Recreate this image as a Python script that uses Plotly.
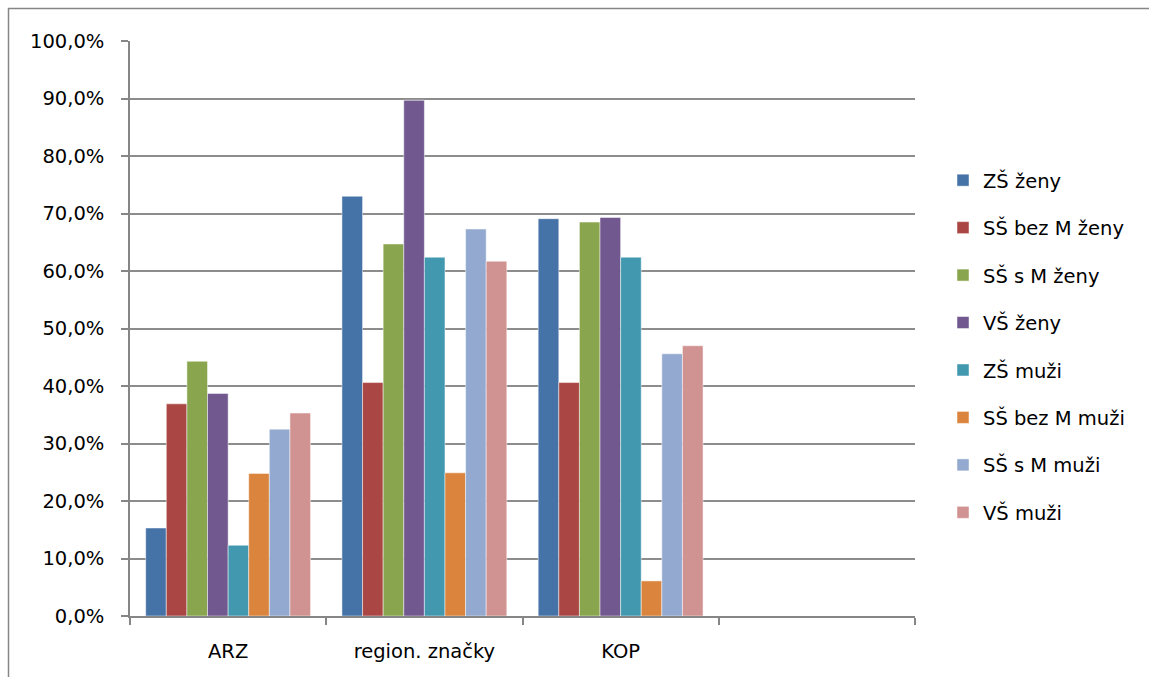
import plotly.graph_objects as go

categories = ["ARZ", "region. značky", "KOP", " "]
series_names = ["ZŠ ženy", "SŠ bez M ženy", "SŠ s M ženy", "VŠ ženy",
                "ZŠ muži", "SŠ bez M muži", "SŠ s M muži", "VŠ muži"]
zs_zeny = [0.153, 0.730, 0.691, None]
ss_bez_m_zeny = [0.369, 0.406, 0.406, None]
ss_s_m_zeny = [0.443, 0.647, 0.685, None]
vs_zeny = [0.387, 0.897, 0.693, None]
zs_muzi = [0.123, 0.624, 0.624, None]
ss_bez_m_muzi = [0.248, 0.249, 0.061, None]
ss_s_m_muzi = [0.325, 0.673, 0.456, None]
vs_muzi = [0.353, 0.617, 0.470, None]
series_values = [zs_zeny, ss_bez_m_zeny, ss_s_m_zeny, vs_zeny,
                 zs_muzi, ss_bez_m_muzi, ss_s_m_muzi, vs_muzi]
colors = ["#4572A7", "#AA4643", "#89A54E", "#71588F",
          "#4198AF", "#DB843D", "#93A9CF", "#D19392"]
y_ticks = [i / 10 for i in range(11)]
y_tick_labels = [f"{i*10},0%" for i in range(11)]

FONT = "DejaVu Sans"
FS = 19.5
fig = go.Figure()
for i, (name, vals) in enumerate(zip(series_names, series_values)):
    fig.add_trace(go.Bar(
        x=categories, y=vals, name=name, legendgroup=f"g{i}",
        marker=dict(color=colors[i], line=dict(color="rgba(255,255,255,0.6)", width=0.8)),
    ))

W, H = 1149, 677
L, R, T, B = 130, 915, 41, 616
pw, ph = R - L, B - T

def px2x(px):
    return (px - L) / pw

def py2y(py):
    return (B - py) / ph

fig.update_layout(
    width=W, height=H,
    margin=dict(l=L, r=W - R, t=T, b=H - B, pad=0),
    paper_bgcolor="white", plot_bgcolor="white",
    barmode="group", bargap=0.16, bargroupgap=0,
    font=dict(family=FONT, size=FS, color="#000000"),
    showlegend=True,
    legend=dict(
        x=px2x(943), y=py2y(161), xanchor="left", yanchor="top",
        font=dict(family=FONT, size=FS, color="#000000"),
        tracegroupgap=19.1, itemclick=False, bgcolor="rgba(0,0,0,0)",
    ),
    xaxis=dict(
        type="category", categoryorder="array", categoryarray=categories,
        tickson="boundaries", ticks="outside", ticklen=7, tickwidth=1.5,
        tickcolor="#868686", showline=True, linecolor="#868686", linewidth=1.5,
        showgrid=False, range=[-0.5, 3.5], ticklabelstandoff=17,
        tickfont=dict(family=FONT, size=FS, color="#000000"),
    ),
    yaxis=dict(
        range=[0, 1], tickvals=y_ticks, ticktext=y_tick_labels,
        ticks="outside", ticklen=7, tickwidth=1.5, tickcolor="#868686",
        showline=True, linecolor="#868686", linewidth=1.5,
        showgrid=True, gridcolor="#8c8c8c", gridwidth=1.5,
        zeroline=False, ticklabelstandoff=13,
        tickfont=dict(family=FONT, size=FS, color="#000000"),
    ),
    shapes=[dict(
        type="rect", xref="paper", yref="paper",
        x0=px2x(8.5), y0=py2y(700), x1=px2x(1170), y1=py2y(8.5),
        line=dict(color="#868686", width=1.5), fillcolor="rgba(0,0,0,0)",
        layer="below",
    )],
)

fig.write_html("out.html")
